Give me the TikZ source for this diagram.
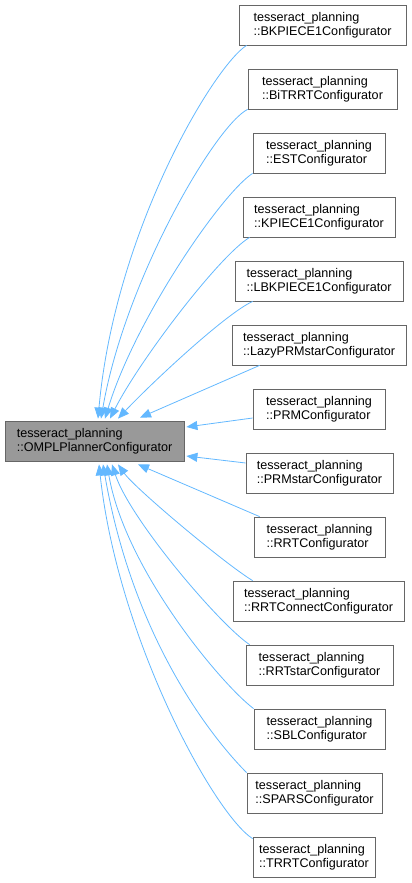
\documentclass[tikz,border=0pt]{standalone}
\usepackage{fontspec}
\setmainfont{Liberation Sans}
\usetikzlibrary{arrows.meta}
\definecolor{edgecol}{HTML}{63B8FF}
\definecolor{boxborder}{HTML}{666666}
\definecolor{mainfill}{HTML}{999999}
\begin{document}
\begin{tikzpicture}[x=1pt,y=-1pt,
  box/.style={draw=boxborder, line width=0.8pt, fill=white, inner sep=0pt,
    minimum height=40pt, align=left, font=\fontsize{12.6}{14.3}\selectfont},
  mainbox/.style={box, fill=mainfill},
  edge/.style={draw=edgecol, line width=0.8pt, -{Triangle[length=11pt,width=9pt]}}]
\useasboundingbox (0,0) rectangle (412,883);

\node[mainbox, minimum width=179pt] (main) at (94.5,441) {tesseract\_planning\\::OMPLPlannerConfigurator};

\node[box, minimum width=167pt] (bk) at (322.5,25) {tesseract\_planning\\::BKPIECE1Configurator};
\node[box, minimum width=149pt] (bi) at (322.5,89) {tesseract\_planning\\::BiTRRTConfigurator};
\node[box, minimum width=132pt] (est) at (319,153) {tesseract\_planning\\::ESTConfigurator};
\node[box, minimum width=152pt] (kp) at (319,217) {tesseract\_planning\\::KPIECE1Configurator};
\node[box, minimum width=168pt] (lbk) at (319,281) {tesseract\_planning\\::LBKPIECE1Configurator};
\node[box, minimum width=174pt] (lazy) at (319,345) {tesseract\_planning\\::LazyPRMstarConfigurator};
\node[box, minimum width=132pt] (prm) at (319,409) {tesseract\_planning\\::PRMConfigurator};
\node[box, minimum width=147pt] (prms) at (319.5,473) {tesseract\_planning\\::PRMstarConfigurator};
\node[box, minimum width=131pt] (rrt) at (319.5,537) {tesseract\_planning\\::RRTConfigurator};
\node[box, minimum width=171pt] (rrtc) at (318.5,601) {tesseract\_planning\\::RRTConnectConfigurator};
\node[box, minimum width=147pt] (rrts) at (319.5,665) {tesseract\_planning\\::RRTstarConfigurator};
\node[box, minimum width=131pt] (sbl) at (319.5,729) {tesseract\_planning\\::SBLConfigurator};
\node[box, minimum width=135pt] (spars) at (314.5,793) {tesseract\_planning\\::SPARSConfigurator};
\node[box, minimum width=122pt] (trrt) at (314,857) {tesseract\_planning\\::TRRTConfigurator};

\draw[edge] ([xshift=8pt]bk.south west) .. controls +(-32,20) and +(17,-189) .. ([xshift=3.5pt,yshift=2pt]main.north);
\draw[edge] (bi.south west) .. controls +(-32,16) and +(24,-139) .. ([xshift=6.5pt,yshift=2pt]main.north);
\draw[edge] (est.south west) .. controls +(-31,20) and +(30,-99) .. ([xshift=10.5pt,yshift=2pt]main.north);
\draw[edge] ([xshift=7pt]kp.south west) .. controls +(-30,18) and +(30,-59) .. ([xshift=15.5pt,yshift=2pt]main.north);
\draw[edge] ([xshift=18pt]lbk.south west) .. controls +(-28,13) and +(32,-34) .. ([xshift=23.5pt,yshift=2pt]main.north);
\draw[edge] ([xshift=28pt]lazy.south west) -- ([xshift=45.5pt,yshift=3pt]main.north);
\draw[edge] ([yshift=-9pt]prm.west) -- ([xshift=2pt,yshift=14pt]main.east);
\draw[edge] ([yshift=10pt]prms.west) -- ([xshift=2pt,yshift=-15pt]main.east);
\draw[edge] ([xshift=6pt]rrt.north west) -- ([xshift=43.5pt,yshift=-3pt]main.south);
\draw[edge] ([xshift=20pt]rrtc.north west) .. controls +(-28,-17) and +(17,24) .. ([xshift=23.5pt,yshift=-3pt]main.south);
\draw[edge] ([xshift=4pt]rrts.north west) .. controls +(-30,-20) and +(18,55) .. ([xshift=17.5pt,yshift=-3pt]main.south);
\draw[edge] (sbl.north west) .. controls +(-32,-24) and +(18,105) .. ([xshift=12.5pt,yshift=-3pt]main.south);
\draw[edge] (spars.north west) .. controls +(-25,-25) and +(32,185) .. ([xshift=8.5pt,yshift=-3pt]main.south);
\draw[edge] ([yshift=-2pt]trrt.north west) .. controls +(-38,-24) and +(19,175) .. ([xshift=4.5pt,yshift=-3pt]main.south);
\end{tikzpicture}
\end{document}
